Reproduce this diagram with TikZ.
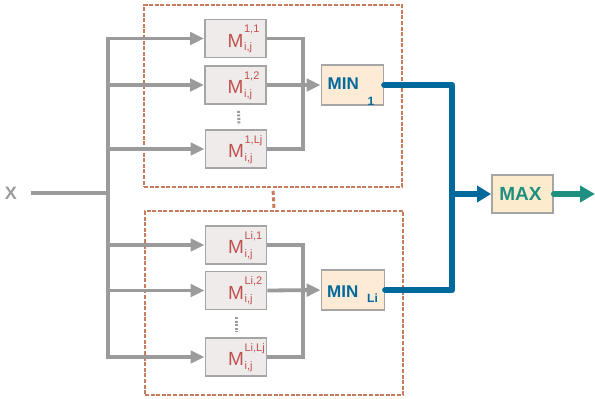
\documentclass[tikz,border=0pt]{standalone}
\usepackage{fontspec}
\setmainfont{Liberation Sans}
\usetikzlibrary{arrows.meta}
\definecolor{gline}{HTML}{9B9B9B}
\definecolor{mfill}{HTML}{EFEBEB}
\definecolor{mdraw}{HTML}{A5A5A5}
\definecolor{mtext}{HTML}{C0504D}
\definecolor{minfill}{HTML}{FDEBD6}
\definecolor{bluec}{HTML}{00699C}
\definecolor{maxfill}{HTML}{FCEBCC}
\definecolor{tealc}{HTML}{1F8F80}
\definecolor{dashc}{HTML}{C97B5E}
\newcommand{\supf}{\fontsize{11}{11}\selectfont}
\newcommand{\Mlabel}[1]{M\kern0.6pt\rlap{\raisebox{14.5pt}{\supf #1}}\raisebox{-3.5pt}{\supf i,j}}
\begin{document}
\begin{tikzpicture}[x=1pt,y=-1pt,
  mblock/.style={draw=mdraw, fill=mfill, line width=1.8pt, minimum width=61pt, minimum height=38pt, inner sep=0pt},
  minblock/.style={draw=mdraw, fill=minfill, line width=1.8pt, minimum width=62pt, minimum height=40pt, inner sep=0pt},
  maxblock/.style={draw=mdraw, fill=maxfill, line width=1.8pt, minimum width=61pt, minimum height=38pt, inner sep=0pt},
  mlab/.style={anchor=base west, inner sep=0pt, text=mtext, font=\fontsize{19}{19}\selectfont},
  minlab/.style={anchor=base west, inner sep=0pt, text=bluec, font=\bfseries\fontsize{17}{17}\selectfont},
  minsub/.style={anchor=base west, inner sep=0pt, text=bluec, font=\bfseries\fontsize{12}{12}\selectfont},
  gline/.style={draw=gline, line width=3.8pt},
  garrow/.style={gline, -{Triangle[length=14pt,width=12.5pt]}},
  bline/.style={draw=bluec, line width=6.5pt, line cap=round, line join=round},
  dashbox/.style={draw=dashc, line width=1.6pt, dash pattern=on 4pt off 1.6pt, minimum width=258pt, minimum height=182pt, inner sep=0pt},
  gdots/.style={draw=gline, line width=3pt, dash pattern=on 2pt off 1.5pt},
]
\useasboundingbox (0,0) rectangle (595,399);

% group boxes
\node[dashbox] (g1) at (273,96) {};
\node[dashbox, minimum height=184pt] (g2) at (274,303) {};
\draw[draw=dashc, line width=3pt, dash pattern=on 4pt off 2.5pt, shorten <=3pt, shorten >=2pt] (g1.south) -- (g2.north);

% input
\node[inner sep=2pt, text=gline, font=\bfseries\fontsize{18}{18}\selectfont] (x) at (11,193) {X};
\coordinate (split) at (108,193);

% blocks, top group
\node[mblock] (m11) at (235.5,38.5) {};
\node[mblock] (m12) at (235.5,85) {};
\node[mblock] (m1L) at (236,149) {};
\node[minblock] (min1) at (352.5,85) {};
% blocks, bottom group
\node[mblock] (mL1) at (236,245) {};
\node[mblock] (mL2) at (236,290.5) {};
\node[mblock] (mLL) at (236,357) {};
\node[minblock, minimum width=63pt] (minL) at (353,290) {};
% max
\node[maxblock] (max) at (522.5,194) {};
\coordinate (out) at (595,194);
\coordinate (bj) at (452,194);
\coordinate (j1) at (303,85);
\coordinate (jL) at (303,290.5);

% labels
\node[mlab] at ([xshift=-8pt,yshift=-8.5pt]m11.center) {\Mlabel{1,1}};
\node[mlab] at ([xshift=-8pt,yshift=-8.5pt]m12.center) {\Mlabel{1,2}};
\node[mlab] at ([xshift=-8pt,yshift=-8.5pt]m1L.center) {\Mlabel{1,Lj}};
\node[mlab] at ([xshift=-8pt,yshift=-8.5pt]mL1.center) {\Mlabel{Li,1}};
\node[mlab] at ([xshift=-8pt,yshift=-8.5pt]mL2.center) {\Mlabel{Li,2}};
\node[mlab] at ([xshift=-8pt,yshift=-8.5pt]mLL.center) {\Mlabel{Li,Lj}};
\node[minlab] at ([xshift=-25pt,yshift=-4pt]min1.center) {MIN};
\node[minsub] at ([xshift=15pt,yshift=-20pt]min1.center) {1};
\node[minlab] at ([xshift=-26pt,yshift=-7pt]minL.center) {MIN};
\node[minsub] at ([xshift=14pt,yshift=-12pt]minL.center) {Li};
\node[inner sep=0pt, text=tealc, font=\bfseries\fontsize{19}{19}\selectfont] at ([xshift=-2pt]max.center) {MAX};

% vertical dots
\draw[gdots, shorten <=6pt, shorten >=4pt] ([xshift=3pt]m12.south) -- ([xshift=3pt]m1L.north);
\draw[gdots, shorten <=7pt, shorten >=5pt] (mL2.south) -- (mLL.north);

% grey connectors
\draw[gline, shorten <=12pt] (x.east) -- (split);
\foreach \b in {m11,m12,m1L,mL1,mL2,mLL}
  \draw[garrow] (split) |- (\b.west);
\draw[gline] (m11.east) -| (j1);
\draw[gline] (m1L.east) -| (j1);
\draw[garrow] (m12.east) -- (min1.west);
\draw[gline] (mL1.east) -| (jL);
\draw[gline] (mLL.east) -| (jL);
\draw[garrow] (mL2.east) -- (minL.west);

% blue and teal
\draw[bline] (min1.east) -| (bj) |- (minL.east);
\draw[bline, line cap=butt, -{Triangle[length=14pt,width=16pt]}] (bj) -- (max.west);
\draw[draw=tealc, line width=6pt, line cap=round, -{Triangle[length=15pt,width=16pt]}] (max.east) -- (out);
\end{tikzpicture}
\end{document}
